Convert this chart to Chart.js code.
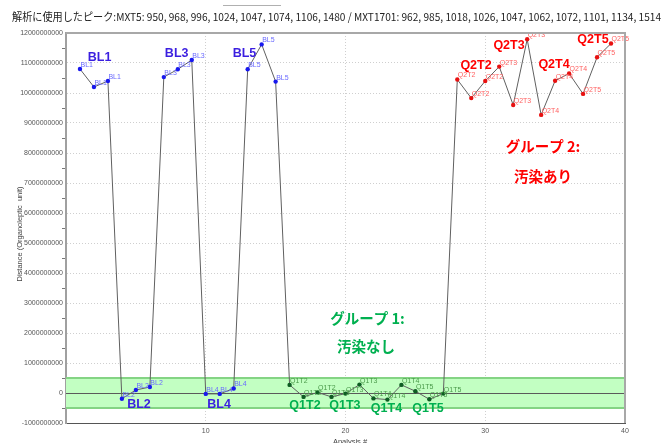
<!DOCTYPE html>
<html>
<head>
<meta charset="utf-8">
<script src="https://cdn.jsdelivr.net/npm/chart.js@4.4.0/dist/chart.umd.min.js"></script>
<style>
  html, body { margin: 0; padding: 0; background: #fff; }
  canvas { display: block; }
</style>
</head>
<body>
<canvas id="c" width="663" height="443"></canvas>
<script>
// Analysis number of each measurement
const analysisNo = [1, 2, 3, 4, 5, 6, 7, 8, 9, 10, 11, 12, 13, 14, 15, 16, 17, 18, 19, 20,
  21, 22, 23, 24, 25, 26, 27, 28, 29, 30, 31, 32, 33, 34, 35, 36, 37, 38, 39];

// Sample name of each measurement
const sampleNames = ['BL1', 'BL1', 'BL1', 'BL2', 'BL2', 'BL2', 'BL3', 'BL3', 'BL3',
  'BL4', 'BL4', 'BL4', 'BL5', 'BL5', 'BL5',
  'Q1T2', 'Q1T2', 'Q1T2', 'Q1T3', 'Q1T3', 'Q1T3', 'Q1T4', 'Q1T4', 'Q1T4', 'Q1T5', 'Q1T5', 'Q1T5',
  'Q2T2', 'Q2T2', 'Q2T2', 'Q2T3', 'Q2T3', 'Q2T3', 'Q2T4', 'Q2T4', 'Q2T4', 'Q2T5', 'Q2T5', 'Q2T5'];

// Group of each measurement: 0 = blank, 1 = group 1, 2 = group 2
const sampleGroup = [0, 0, 0, 0, 0, 0, 0, 0, 0, 0, 0, 0, 0, 0, 0,
  1, 1, 1, 1, 1, 1, 1, 1, 1, 1, 1, 1,
  2, 2, 2, 2, 2, 2, 2, 2, 2, 2, 2, 2];

// Distance (organoleptic unit)
const distance = [
  10800000000, 10200000000, 10400000000,
  -190000000, 100000000, 200000000,
  10530000000, 10790000000, 11100000000,
  -30000000, -30000000, 150000000,
  10790000000, 11620000000, 10380000000,
  270000000, -130000000, 20000000,
  -130000000, -20000000, 280000000,
  -180000000, -220000000, 270000000,
  60000000, -210000000, -20000000,
  10450000000, 9830000000, 10400000000,
  10880000000, 9600000000, 11790000000,
  9270000000, 10410000000, 10650000000,
  9970000000, 11190000000, 11650000000
];

// Y axis range and tick step
const yMin = -1000000000;
const yMax = 12000000000;
const yStep = 1000000000;
// Acceptance band around zero
const bandHalf = 500000000;

// Sample name captions placed in the plot (text, analysis #, distance)
const captionText = ['BL1', 'BL3', 'BL5', 'BL2', 'BL4', 'Q1T2', 'Q1T3', 'Q1T4', 'Q1T5', 'Q2T2', 'Q2T3', 'Q2T4', 'Q2T5'];
const captionX = [2.4, 7.92, 12.77, 5.22, 10.95, 17.1, 19.96, 22.93, 25.9, 29.34, 31.7, 34.92, 37.71];
const captionY = [11170000000, 11300000000, 11330000000, -370000000, -370000000, -420000000, -420000000,
  -530000000, -530000000, 10900000000, 11580000000, 10960000000, 11790000000];
const captionGroup = [0, 0, 0, 0, 0, 1, 1, 1, 1, 2, 2, 2, 2];

// Group notes
const groupNoteText = ['グループ 1:', '汚染なし', 'グループ 2:', '汚染あり'];
const groupNoteX = [21.57, 21.47, 34.13, 34.13];
const groupNoteY = [2500000000, 1540000000, 8210000000, 7210000000];
const groupNoteGroup = [1, 1, 2, 2];

const titleText = '解析に使用したピーク:MXT5: 950, 968, 996, 1024, 1047, 1074, 1106, 1480 / MXT1701: 962, 985, 1018, 1026, 1047, 1062, 1072, 1101, 1134, 1514';

const pointColors = ['#1818ee', '#0d5c22', '#e81010'];
const pointLabelColors = ['#6a6aff', '#4a9a4a', '#ff6262'];
const captionColors = ['#3a1ee0', '#00b050', '#ff0000'];

const points = analysisNo.map((x, i) => ({ x: x, y: distance[i] }));

// Green band at +-bandHalf and the zero line
const bandPlugin = {
  id: 'band',
  beforeDatasetsDraw(chart) {
    const { ctx, chartArea: a, scales: { y } } = chart;
    const yTop = y.getPixelForValue(bandHalf);
    const yBot = y.getPixelForValue(-bandHalf);
    const y0 = y.getPixelForValue(0);
    ctx.save();
    ctx.fillStyle = '#c2ffc2';
    ctx.fillRect(a.left, yTop, a.right - a.left, yBot - yTop);
    ctx.strokeStyle = '#84d484';
    ctx.lineWidth = 2;
    ctx.beginPath();
    ctx.moveTo(a.left, yTop); ctx.lineTo(a.right, yTop);
    ctx.moveTo(a.left, yBot); ctx.lineTo(a.right, yBot);
    ctx.stroke();
    ctx.strokeStyle = '#5a5a5a';
    ctx.lineWidth = 1;
    ctx.beginPath();
    ctx.moveTo(a.left, Math.round(y0) + 0.5); ctx.lineTo(a.right, Math.round(y0) + 0.5);
    ctx.stroke();
    ctx.restore();
  }
};

// Frame, minor ticks, axis titles and the heading
const framePlugin = {
  id: 'frame',
  afterDraw(chart) {
    const { ctx, chartArea: a, scales: { x, y } } = chart;
    ctx.save();
    // top and right border
    ctx.strokeStyle = '#a8a8a8';
    ctx.lineWidth = 2;
    ctx.beginPath();
    ctx.moveTo(a.left, a.top);
    ctx.lineTo(a.right, a.top);
    ctx.lineTo(a.right, a.bottom);
    ctx.stroke();
    // minor ticks on the y axis
    ctx.strokeStyle = '#777';
    ctx.lineWidth = 1;
    ctx.beginPath();
    for (let v = yMin + yStep / 2; v < yMax; v += yStep) {
      const py = Math.round(y.getPixelForValue(v)) + 0.5;
      ctx.moveTo(a.left - 4, py); ctx.lineTo(a.left - 1, py);
    }
    ctx.stroke();
    // y axis title
    ctx.fillStyle = '#444';
    ctx.font = '7.5px "Liberation Sans", Arial, sans-serif';
    ctx.textAlign = 'center';
    ctx.textBaseline = 'middle';
    ctx.translate(20, 234);
    ctx.rotate(-Math.PI / 2);
    ctx.fillText('Distance (Organoleptic  unit)', 0, 0);
    ctx.setTransform(1, 0, 0, 1, 0, 0);
    // x axis title
    ctx.fillText('Analysis #', 350, 442);
    // heading
    ctx.fillStyle = '#222';
    ctx.font = '11px "Noto Sans CJK JP", sans-serif';
    ctx.textAlign = 'left';
    ctx.fillText(titleText, 12, 17, 649);
    ctx.strokeStyle = '#b0b0b0';
    ctx.beginPath();
    ctx.moveTo(223, 5.5); ctx.lineTo(281, 5.5);
    ctx.stroke();
    ctx.restore();
  }
};

// Per-point sample labels, sample captions and group notes
const labelPlugin = {
  id: 'labels',
  afterDatasetsDraw(chart) {
    const { ctx, scales: { x, y } } = chart;
    const meta = chart.getDatasetMeta(0);
    ctx.save();
    ctx.font = '7px "Liberation Sans", Arial, sans-serif';
    ctx.textAlign = 'left';
    ctx.textBaseline = 'bottom';
    meta.data.forEach((el, i) => {
      ctx.fillStyle = pointLabelColors[sampleGroup[i]];
      ctx.fillText(sampleNames[i], el.x + 0.5, el.y - 0.5);
    });
    ctx.textAlign = 'center';
    ctx.textBaseline = 'middle';
    ctx.font = 'bold 12.5px "Liberation Sans", Arial, sans-serif';
    captionText.forEach((t, i) => {
      ctx.fillStyle = captionColors[captionGroup[i]];
      ctx.fillText(t, x.getPixelForValue(captionX[i]), y.getPixelForValue(captionY[i]));
    });
    ctx.font = 'bold 14.5px "Noto Sans CJK JP", sans-serif';
    groupNoteText.forEach((t, i) => {
      ctx.fillStyle = captionColors[groupNoteGroup[i]];
      ctx.fillText(t, x.getPixelForValue(groupNoteX[i]), y.getPixelForValue(groupNoteY[i]));
    });
    ctx.restore();
  }
};

new Chart(document.getElementById('c'), {
  type: 'line',
  data: {
    datasets: [{
      data: points,
      borderColor: '#606060',
      borderWidth: 1,
      pointRadius: 2.2,
      pointBorderWidth: 0,
      pointBackgroundColor: sampleGroup.map(g => pointColors[g]),
      tension: 0
    }]
  },
  options: {
    responsive: false,
    animation: false,
    devicePixelRatio: 1,
    layout: { padding: { top: 33, right: 38, left: 0, bottom: 0 } },
    plugins: { legend: { display: false }, tooltip: { enabled: false }, title: { display: false } },
    scales: {
      x: {
        type: 'linear',
        min: 0,
        max: 40,
        ticks: {
          stepSize: 10,
          padding: 4,
          color: '#555',
          font: { size: 7, family: '"Liberation Sans", Arial, sans-serif' },
          callback: v => (v === 0 ? '' : String(v))
        },
        grid: {
          drawTicks: false,
          color: c => (c.tick && (c.tick.value === 0 || c.tick.value === 40) ? 'rgba(0,0,0,0)' : '#cfcfcf')
        },
        border: { color: '#555', width: 1, dash: [1, 2] },
        afterFit: s => { s.height = 20; }
      },
      y: {
        min: yMin,
        max: yMax,
        ticks: {
          stepSize: yStep,
          padding: 3,
          color: '#555',
          font: { size: 7, family: '"Liberation Sans", Arial, sans-serif' },
          callback: v => String(v)
        },
        grid: {
          drawTicks: false,
          color: c => (c.tick && (c.tick.value === yMin || c.tick.value === yMax || c.tick.value === 0) ? 'rgba(0,0,0,0)' : '#cfcfcf')
        },
        border: { color: '#a0a0a0', width: 2, dash: [1, 2] },
        afterFit: s => { s.width = 66; }
      }
    }
  },
  plugins: [bandPlugin, labelPlugin, framePlugin]
});
</script>
</body>
</html>
